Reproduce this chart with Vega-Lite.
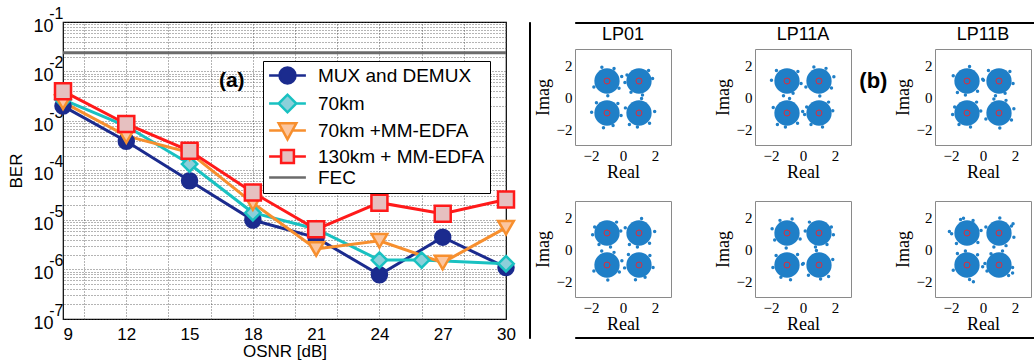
{
  "$schema": "https://vega.github.io/schema/vega-lite/v6.json",
  "background": "white",
  "padding": {"left": 7, "top": 4, "right": 0, "bottom": 0},
  "bounds": "flush",
  "spacing": 23,
  "config": {
    "font": "Liberation Sans",
    "axis": {"labelColor": "black", "titleColor": "black"},
    "header": {"labelColor": "black"},
    "legend": {
      "title": null, "orient": "none", "legendX": 200, "legendY": 39,
      "padding": 5, "symbolOffset": 10, "labelOffset": 21, "rowPadding": 0,
      "symbolSize": 256, "symbolStrokeWidth": 2.5,
      "labelFont": "Liberation Sans", "labelFontSize": 19, "labelColor": "black", "labelLimit": 900,
      "strokeColor": "black", "fillColor": "white"
    }
  },
  "datasets": {
    "ber": [
      {"series": "MUX and DEMUX", "osnr": 9, "ber": 2.0e-3},
      {"series": "MUX and DEMUX", "osnr": 12, "ber": 3.9e-4},
      {"series": "MUX and DEMUX", "osnr": 15, "ber": 6.2e-5},
      {"series": "MUX and DEMUX", "osnr": 18, "ber": 1.0e-5},
      {"series": "MUX and DEMUX", "osnr": 21, "ber": 4.4e-6},
      {"series": "MUX and DEMUX", "osnr": 24, "ber": 7.8e-7},
      {"series": "MUX and DEMUX", "osnr": 27, "ber": 4.5e-6},
      {"series": "MUX and DEMUX", "osnr": 30, "ber": 1.1e-6},
      {"series": "70km", "osnr": 9, "ber": 2.7e-3},
      {"series": "70km", "osnr": 12, "ber": 7.9e-4},
      {"series": "70km", "osnr": 15, "ber": 1.35e-4},
      {"series": "70km", "osnr": 18, "ber": 1.4e-5},
      {"series": "70km", "osnr": 21, "ber": 6.6e-6},
      {"series": "70km", "osnr": 24, "ber": 1.55e-6},
      {"series": "70km", "osnr": 26, "ber": 1.55e-6},
      {"series": "70km", "osnr": 30, "ber": 1.31e-6},
      {"series": "70km +MM-EDFA", "osnr": 9, "ber": 2.4e-3},
      {"series": "70km +MM-EDFA", "osnr": 12, "ber": 5.0e-4},
      {"series": "70km +MM-EDFA", "osnr": 15, "ber": 2.3e-4},
      {"series": "70km +MM-EDFA", "osnr": 18, "ber": 2.2e-5},
      {"series": "70km +MM-EDFA", "osnr": 21, "ber": 2.6e-6},
      {"series": "70km +MM-EDFA", "osnr": 24, "ber": 3.8e-6},
      {"series": "70km +MM-EDFA", "osnr": 27, "ber": 1.38e-6},
      {"series": "70km +MM-EDFA", "osnr": 30, "ber": 7.0e-6},
      {"series": "130km + MM-EDFA", "osnr": 9, "ber": 4.0e-3},
      {"series": "130km + MM-EDFA", "osnr": 12, "ber": 8.7e-4},
      {"series": "130km + MM-EDFA", "osnr": 15, "ber": 2.5e-4},
      {"series": "130km + MM-EDFA", "osnr": 18, "ber": 3.6e-5},
      {"series": "130km + MM-EDFA", "osnr": 21, "ber": 6.5e-6},
      {"series": "130km + MM-EDFA", "osnr": 24, "ber": 2.24e-5},
      {"series": "130km + MM-EDFA", "osnr": 27, "ber": 1.34e-5},
      {"series": "130km + MM-EDFA", "osnr": 30, "ber": 2.6e-5}
    ],
    "constellation": [
      {"mode": "LP11A", "row": 1, "kind": "label", "text": "(b)"},
      {"mode": "LP01", "row": 1, "kind": "c", "re": 1, "im": 1},
      {"mode": "LP01", "row": 1, "kind": "c", "re": -1, "im": 1},
      {"mode": "LP01", "row": 1, "kind": "c", "re": -1, "im": -1},
      {"mode": "LP01", "row": 1, "kind": "c", "re": 1, "im": -1},
      {"mode": "LP11A", "row": 1, "kind": "c", "re": 1, "im": 1},
      {"mode": "LP11A", "row": 1, "kind": "c", "re": -1, "im": 1},
      {"mode": "LP11A", "row": 1, "kind": "c", "re": -1, "im": -1},
      {"mode": "LP11A", "row": 1, "kind": "c", "re": 1, "im": -1},
      {"mode": "LP11B", "row": 1, "kind": "c", "re": 1, "im": 1},
      {"mode": "LP11B", "row": 1, "kind": "c", "re": -1, "im": 1},
      {"mode": "LP11B", "row": 1, "kind": "c", "re": -1, "im": -1},
      {"mode": "LP11B", "row": 1, "kind": "c", "re": 1, "im": -1},
      {"mode": "LP01", "row": 2, "kind": "c", "re": 1, "im": 1},
      {"mode": "LP01", "row": 2, "kind": "c", "re": -1, "im": 1},
      {"mode": "LP01", "row": 2, "kind": "c", "re": -1, "im": -1},
      {"mode": "LP01", "row": 2, "kind": "c", "re": 1, "im": -1},
      {"mode": "LP11A", "row": 2, "kind": "c", "re": 1, "im": 1},
      {"mode": "LP11A", "row": 2, "kind": "c", "re": -1, "im": 1},
      {"mode": "LP11A", "row": 2, "kind": "c", "re": -1, "im": -1},
      {"mode": "LP11A", "row": 2, "kind": "c", "re": 1, "im": -1},
      {"mode": "LP11B", "row": 2, "kind": "c", "re": 1, "im": 1},
      {"mode": "LP11B", "row": 2, "kind": "c", "re": -1, "im": 1},
      {"mode": "LP11B", "row": 2, "kind": "c", "re": -1, "im": -1},
      {"mode": "LP11B", "row": 2, "kind": "c", "re": 1, "im": -1},

      {"mode": "LP01", "row": 1, "kind": "p", "re": 1.85, "im": 1.15},
      {"mode": "LP01", "row": 1, "kind": "p", "re": 0.25, "im": 1.38},
      {"mode": "LP01", "row": 1, "kind": "p", "re": 1.22, "im": 0.12},
      {"mode": "LP01", "row": 1, "kind": "p", "re": 0.50, "im": 0.30},
      {"mode": "LP01", "row": 1, "kind": "p", "re": 1.60, "im": 1.66},
      {"mode": "LP01", "row": 1, "kind": "p", "re": 0.12, "im": 0.90},
      {"mode": "LP01", "row": 1, "kind": "p", "re": -0.25, "im": 0.55},
      {"mode": "LP01", "row": 1, "kind": "p", "re": -1.32, "im": 1.86},
      {"mode": "LP01", "row": 1, "kind": "p", "re": -0.08, "im": 1.28},
      {"mode": "LP01", "row": 1, "kind": "p", "re": -1.82, "im": 0.62},
      {"mode": "LP01", "row": 1, "kind": "p", "re": -0.95, "im": 0.08},
      {"mode": "LP01", "row": 1, "kind": "p", "re": -0.56, "im": 1.78},
      {"mode": "LP01", "row": 1, "kind": "p", "re": -1.66, "im": -0.36},
      {"mode": "LP01", "row": 1, "kind": "p", "re": -0.12, "im": -1.16},
      {"mode": "LP01", "row": 1, "kind": "p", "re": -1.22, "im": -1.92},
      {"mode": "LP01", "row": 1, "kind": "p", "re": -0.32, "im": -0.40},
      {"mode": "LP01", "row": 1, "kind": "p", "re": -1.96, "im": -0.95},
      {"mode": "LP01", "row": 1, "kind": "p", "re": -0.62, "im": -1.78},
      {"mode": "LP01", "row": 1, "kind": "p", "re": 1.98, "im": -0.90},
      {"mode": "LP01", "row": 1, "kind": "p", "re": 0.40, "im": -1.72},
      {"mode": "LP01", "row": 1, "kind": "p", "re": 1.16, "im": -0.10},
      {"mode": "LP01", "row": 1, "kind": "p", "re": 0.15, "im": -0.68},
      {"mode": "LP01", "row": 1, "kind": "p", "re": 1.66, "im": -1.64},
      {"mode": "LP01", "row": 1, "kind": "p", "re": 0.90, "im": -1.88},

      {"mode": "LP11A", "row": 1, "kind": "p", "re": 1.78, "im": 0.56},
      {"mode": "LP11A", "row": 1, "kind": "p", "re": 0.68, "im": 1.88},
      {"mode": "LP11A", "row": 1, "kind": "p", "re": 1.93, "im": 1.27},
      {"mode": "LP11A", "row": 1, "kind": "p", "re": 0.18, "im": 0.62},
      {"mode": "LP11A", "row": 1, "kind": "p", "re": 1.05, "im": 0.06},
      {"mode": "LP11A", "row": 1, "kind": "p", "re": 1.44, "im": 1.79},
      {"mode": "LP11A", "row": 1, "kind": "p", "re": -1.66, "im": 1.66},
      {"mode": "LP11A", "row": 1, "kind": "p", "re": -0.12, "im": 0.84},
      {"mode": "LP11A", "row": 1, "kind": "p", "re": -1.22, "im": 0.08},
      {"mode": "LP11A", "row": 1, "kind": "p", "re": -0.32, "im": 1.60},
      {"mode": "LP11A", "row": 1, "kind": "p", "re": -1.97, "im": 1.05},
      {"mode": "LP11A", "row": 1, "kind": "p", "re": -0.62, "im": 0.24},
      {"mode": "LP11A", "row": 1, "kind": "p", "re": -0.02, "im": -0.90},
      {"mode": "LP11A", "row": 1, "kind": "p", "re": -1.60, "im": -1.72},
      {"mode": "LP11A", "row": 1, "kind": "p", "re": -0.84, "im": -0.10},
      {"mode": "LP11A", "row": 1, "kind": "p", "re": -1.86, "im": -0.66},
      {"mode": "LP11A", "row": 1, "kind": "p", "re": -0.34, "im": -1.64},
      {"mode": "LP11A", "row": 1, "kind": "p", "re": -1.10, "im": -1.88},
      {"mode": "LP11A", "row": 1, "kind": "p", "re": 1.86, "im": -0.86},
      {"mode": "LP11A", "row": 1, "kind": "p", "re": 0.23, "im": -0.62},
      {"mode": "LP11A", "row": 1, "kind": "p", "re": 1.22, "im": -1.88},
      {"mode": "LP11A", "row": 1, "kind": "p", "re": 0.50, "im": -1.72},
      {"mode": "LP11A", "row": 1, "kind": "p", "re": 1.60, "im": -0.32},
      {"mode": "LP11A", "row": 1, "kind": "p", "re": 0.10, "im": -1.10},

      {"mode": "LP11B", "row": 1, "kind": "p", "re": 0.34, "im": 1.66},
      {"mode": "LP11B", "row": 1, "kind": "p", "re": 1.88, "im": 0.84},
      {"mode": "LP11B", "row": 1, "kind": "p", "re": 0.78, "im": 0.08},
      {"mode": "LP11B", "row": 1, "kind": "p", "re": 1.68, "im": 1.60},
      {"mode": "LP11B", "row": 1, "kind": "p", "re": 0.03, "im": 1.05},
      {"mode": "LP11B", "row": 1, "kind": "p", "re": 1.38, "im": 0.23},
      {"mode": "LP11B", "row": 1, "kind": "p", "re": -0.02, "im": 1.11},
      {"mode": "LP11B", "row": 1, "kind": "p", "re": -1.60, "im": 0.28},
      {"mode": "LP11B", "row": 1, "kind": "p", "re": -0.84, "im": 1.90},
      {"mode": "LP11B", "row": 1, "kind": "p", "re": -1.86, "im": 1.33},
      {"mode": "LP11B", "row": 1, "kind": "p", "re": -0.34, "im": 0.36},
      {"mode": "LP11B", "row": 1, "kind": "p", "re": -1.10, "im": 0.12},
      {"mode": "LP11B", "row": 1, "kind": "p", "re": -0.14, "im": -0.88},
      {"mode": "LP11B", "row": 1, "kind": "p", "re": -1.77, "im": -0.62},
      {"mode": "LP11B", "row": 1, "kind": "p", "re": -0.78, "im": -1.88},
      {"mode": "LP11B", "row": 1, "kind": "p", "re": -1.50, "im": -1.72},
      {"mode": "LP11B", "row": 1, "kind": "p", "re": -0.40, "im": -0.32},
      {"mode": "LP11B", "row": 1, "kind": "p", "re": -1.90, "im": -1.10},
      {"mode": "LP11B", "row": 1, "kind": "p", "re": 1.78, "im": -1.44},
      {"mode": "LP11B", "row": 1, "kind": "p", "re": 0.68, "im": -0.12},
      {"mode": "LP11B", "row": 1, "kind": "p", "re": 1.93, "im": -0.73},
      {"mode": "LP11B", "row": 1, "kind": "p", "re": 0.18, "im": -1.38},
      {"mode": "LP11B", "row": 1, "kind": "p", "re": 1.05, "im": -1.94},
      {"mode": "LP11B", "row": 1, "kind": "p", "re": 1.44, "im": -0.21},

      {"mode": "LP01", "row": 2, "kind": "p", "re": 1.98, "im": 1.10},
      {"mode": "LP01", "row": 2, "kind": "p", "re": 0.40, "im": 0.28},
      {"mode": "LP01", "row": 2, "kind": "p", "re": 1.16, "im": 1.90},
      {"mode": "LP01", "row": 2, "kind": "p", "re": 0.14, "im": 1.33},
      {"mode": "LP01", "row": 2, "kind": "p", "re": 1.66, "im": 0.36},
      {"mode": "LP01", "row": 2, "kind": "p", "re": 0.90, "im": 0.12},
      {"mode": "LP01", "row": 2, "kind": "p", "re": -0.14, "im": 1.13},
      {"mode": "LP01", "row": 2, "kind": "p", "re": -1.77, "im": 1.38},
      {"mode": "LP01", "row": 2, "kind": "p", "re": -0.78, "im": 0.12},
      {"mode": "LP01", "row": 2, "kind": "p", "re": -1.50, "im": 0.28},
      {"mode": "LP01", "row": 2, "kind": "p", "re": -0.40, "im": 1.68},
      {"mode": "LP01", "row": 2, "kind": "p", "re": -1.90, "im": 0.89},
      {"mode": "LP01", "row": 2, "kind": "p", "re": -0.23, "im": -1.44},
      {"mode": "LP01", "row": 2, "kind": "p", "re": -1.33, "im": -0.12},
      {"mode": "LP01", "row": 2, "kind": "p", "re": -0.07, "im": -0.73},
      {"mode": "LP01", "row": 2, "kind": "p", "re": -1.82, "im": -1.38},
      {"mode": "LP01", "row": 2, "kind": "p", "re": -0.95, "im": -1.94},
      {"mode": "LP01", "row": 2, "kind": "p", "re": -0.56, "im": -0.21},
      {"mode": "LP01", "row": 2, "kind": "p", "re": 0.34, "im": -0.34},
      {"mode": "LP01", "row": 2, "kind": "p", "re": 1.88, "im": -1.16},
      {"mode": "LP01", "row": 2, "kind": "p", "re": 0.78, "im": -1.92},
      {"mode": "LP01", "row": 2, "kind": "p", "re": 1.68, "im": -0.40},
      {"mode": "LP01", "row": 2, "kind": "p", "re": 0.10, "im": -1.18},
      {"mode": "LP01", "row": 2, "kind": "p", "re": 1.38, "im": -1.77},

      {"mode": "LP11A", "row": 2, "kind": "p", "re": 0.14, "im": 1.13},
      {"mode": "LP11A", "row": 2, "kind": "p", "re": 1.77, "im": 1.38},
      {"mode": "LP11A", "row": 2, "kind": "p", "re": 0.78, "im": 0.12},
      {"mode": "LP11A", "row": 2, "kind": "p", "re": 1.50, "im": 0.28},
      {"mode": "LP11A", "row": 2, "kind": "p", "re": 0.40, "im": 1.68},
      {"mode": "LP11A", "row": 2, "kind": "p", "re": 1.90, "im": 0.89},
      {"mode": "LP11A", "row": 2, "kind": "p", "re": -1.77, "im": 0.56},
      {"mode": "LP11A", "row": 2, "kind": "p", "re": -0.68, "im": 1.88},
      {"mode": "LP11A", "row": 2, "kind": "p", "re": -1.93, "im": 1.27},
      {"mode": "LP11A", "row": 2, "kind": "p", "re": -0.18, "im": 0.62},
      {"mode": "LP11A", "row": 2, "kind": "p", "re": -1.05, "im": 0.06},
      {"mode": "LP11A", "row": 2, "kind": "p", "re": -1.44, "im": 1.79},
      {"mode": "LP11A", "row": 2, "kind": "p", "re": -0.34, "im": -0.34},
      {"mode": "LP11A", "row": 2, "kind": "p", "re": -1.88, "im": -1.16},
      {"mode": "LP11A", "row": 2, "kind": "p", "re": -0.78, "im": -1.92},
      {"mode": "LP11A", "row": 2, "kind": "p", "re": -1.68, "im": -0.40},
      {"mode": "LP11A", "row": 2, "kind": "p", "re": -0.03, "im": -0.95},
      {"mode": "LP11A", "row": 2, "kind": "p", "re": -1.38, "im": -1.77},
      {"mode": "LP11A", "row": 2, "kind": "p", "re": 0.02, "im": -0.90},
      {"mode": "LP11A", "row": 2, "kind": "p", "re": 1.60, "im": -1.72},
      {"mode": "LP11A", "row": 2, "kind": "p", "re": 0.84, "im": -0.10},
      {"mode": "LP11A", "row": 2, "kind": "p", "re": 1.86, "im": -0.66},
      {"mode": "LP11A", "row": 2, "kind": "p", "re": 0.34, "im": -1.64},
      {"mode": "LP11A", "row": 2, "kind": "p", "re": 1.10, "im": -1.88},

      {"mode": "LP11B", "row": 2, "kind": "p", "re": 1.78, "im": 1.44},
      {"mode": "LP11B", "row": 2, "kind": "p", "re": 0.68, "im": 0.12},
      {"mode": "LP11B", "row": 2, "kind": "p", "re": 1.93, "im": 0.73},
      {"mode": "LP11B", "row": 2, "kind": "p", "re": 0.18, "im": 1.38},
      {"mode": "LP11B", "row": 2, "kind": "p", "re": 1.05, "im": 1.94},
      {"mode": "LP11B", "row": 2, "kind": "p", "re": 1.44, "im": 0.21},
      {"mode": "LP11B", "row": 2, "kind": "p", "re": -1.66, "im": 0.34},
      {"mode": "LP11B", "row": 2, "kind": "p", "re": -0.12, "im": 1.16},
      {"mode": "LP11B", "row": 2, "kind": "p", "re": -1.22, "im": 1.92},
      {"mode": "LP11B", "row": 2, "kind": "p", "re": -0.32, "im": 0.40},
      {"mode": "LP11B", "row": 2, "kind": "p", "re": -1.96, "im": 0.95},
      {"mode": "LP11B", "row": 2, "kind": "p", "re": -0.62, "im": 1.78},
      {"mode": "LP11B", "row": 2, "kind": "p", "re": -0.02, "im": -1.11},
      {"mode": "LP11B", "row": 2, "kind": "p", "re": -1.60, "im": -0.28},
      {"mode": "LP11B", "row": 2, "kind": "p", "re": -0.84, "im": -1.90},
      {"mode": "LP11B", "row": 2, "kind": "p", "re": -1.86, "im": -1.33},
      {"mode": "LP11B", "row": 2, "kind": "p", "re": -0.34, "im": -0.36},
      {"mode": "LP11B", "row": 2, "kind": "p", "re": -1.10, "im": -0.12},
      {"mode": "LP11B", "row": 2, "kind": "p", "re": 1.85, "im": -1.15},
      {"mode": "LP11B", "row": 2, "kind": "p", "re": 0.25, "im": -1.38},
      {"mode": "LP11B", "row": 2, "kind": "p", "re": 1.22, "im": -0.12},
      {"mode": "LP11B", "row": 2, "kind": "p", "re": 0.50, "im": -0.30},
      {"mode": "LP11B", "row": 2, "kind": "p", "re": 1.60, "im": -1.66},
      {"mode": "LP11B", "row": 2, "kind": "p", "re": 0.12, "im": -0.90},
      {"mode": "LP11B", "row": 2, "kind": "p", "re": -2.10, "im": 1.10},
      {"mode": "LP11B", "row": 2, "kind": "p", "re": 1.88, "im": 1.58},
      {"mode": "LP11B", "row": 2, "kind": "p", "re": 1.85, "im": -1.50},
      {"mode": "LP11B", "row": 2, "kind": "p", "re": -0.60, "im": -2.05},
      {"mode": "LP11B", "row": 2, "kind": "p", "re": -1.40, "im": 1.85}
    ]
  },
  "hconcat": [
    {
      "width": 443,
      "height": 297,
      "view": {"stroke": "black", "strokeWidth": 1.2},
      "resolve": {
        "scale": {"stroke": "independent", "fill": "independent", "shape": "independent"},
        "axis": {"x": "independent", "y": "independent"}
      },
      "layer": [
        {
          "data": {"name": "ber"},
          "mark": {"type": "line", "strokeWidth": 3},
          "encoding": {
            "x": {
              "field": "osnr", "type": "quantitative",
              "scale": {"domain": [9, 30], "nice": false, "zero": false},
              "axis": {
                "orient": "bottom", "values": [9, 12, 15, 18, 21, 24, 27, 30],
                "grid": false, "ticks": false, "domain": false,
                "labelFont": "Liberation Sans", "labelFontSize": 17, "labelPadding": 7, "labelFlush": false,
                "labelAlign": {"condition": {"test": "datum.value == 9", "value": "left"}, "value": "center"},
                "title": "OSNR [dB]", "titleFont": "Liberation Sans", "titleFontSize": 17, "titleFontWeight": "normal", "titlePadding": 1
              }
            },
            "y": {
              "field": "ber", "type": "quantitative",
              "scale": {"type": "log", "domain": [1e-7, 0.1], "nice": false},
              "axis": {
                "orient": "left", "values": [1e-7, 1e-6, 1e-5, 1e-4, 1e-3, 1e-2, 1e-1],
                "grid": true, "gridColor": "#444444", "gridDash": [1, 2], "gridOpacity": 0.8,
                "ticks": false, "domain": false,
                "labelExpr": "'10'",
                "labelAlign": "right", "labelBaseline": "middle", "labelPadding": 10, "labelOffset": 4,
                "labelFont": "Liberation Sans", "labelFontSize": 18, "labelOverlap": false, "labelFlush": false,
                "title": "BER", "titleFont": "Liberation Sans", "titleFontSize": 17, "titleFontWeight": "normal", "titlePadding": 7
              }
            },
            "stroke": {
              "field": "series", "type": "nominal",
              "scale": {
                "domain": ["MUX and DEMUX", "70km", "70km +MM-EDFA", "130km + MM-EDFA"],
                "range": ["#1b2b8e", "#19c1c1", "#f78f2e", "#ff1a1a"]
              },
              "legend": null
            }
          }
        },
        {
          "data": {"name": "ber"},
          "mark": {"type": "point", "filled": true, "strokeWidth": 2.5, "opacity": 1},
          "encoding": {
            "x": {
              "field": "osnr", "type": "quantitative",
              "axis": {
                "orient": "top", "values": [10, 12, 14, 16, 18, 20, 22, 24, 26, 28],
                "grid": true, "gridColor": "#444444", "gridDash": [1, 2], "gridOpacity": 0.8,
                "labels": false, "ticks": false, "domain": false, "title": null
              }
            },
            "y": {
              "field": "ber", "type": "quantitative",
              "axis": {
                "orient": "right",
                "values": [2e-7, 3e-7, 4e-7, 5e-7, 6e-7, 7e-7, 8e-7, 9e-7,
                           2e-6, 3e-6, 4e-6, 5e-6, 6e-6, 7e-6, 8e-6, 9e-6,
                           2e-5, 3e-5, 4e-5, 5e-5, 6e-5, 7e-5, 8e-5, 9e-5,
                           2e-4, 3e-4, 4e-4, 5e-4, 6e-4, 7e-4, 8e-4, 9e-4,
                           2e-3, 3e-3, 4e-3, 5e-3, 6e-3, 7e-3, 8e-3, 9e-3,
                           2e-2, 3e-2, 4e-2, 5e-2, 6e-2, 7e-2, 8e-2, 9e-2],
                "grid": true, "gridColor": "#444444", "gridDash": [1, 2], "gridOpacity": 0.8,
                "labels": false, "ticks": false, "domain": false, "title": null
              }
            },
            "stroke": {
              "field": "series", "type": "nominal",
              "scale": {
                "domain": ["MUX and DEMUX", "70km", "70km +MM-EDFA", "130km + MM-EDFA"],
                "range": ["#1b2b8e", "#19c1c1", "#f78f2e", "#ff1a1a"]
              },
              "legend": null
            },
            "fill": {
              "field": "series", "type": "nominal",
              "scale": {
                "domain": ["MUX and DEMUX", "70km", "70km +MM-EDFA", "130km + MM-EDFA"],
                "range": ["#1b2b8e", "#8bd0da", "#fbc6a0", "#e6c0c0"]
              },
              "legend": null
            },
            "shape": {
              "field": "series", "type": "nominal",
              "scale": {
                "domain": ["MUX and DEMUX", "70km", "70km +MM-EDFA", "130km + MM-EDFA"],
                "range": ["circle", "diamond", "triangle-down", "square"]
              },
              "legend": null
            },
            "size": {
              "field": "series", "type": "ordinal",
              "scale": {
                "domain": ["MUX and DEMUX", "70km", "70km +MM-EDFA", "130km + MM-EDFA"],
                "range": [225, 256, 300, 169]
              },
              "legend": null
            }
          }
        },
        {
          "data": {"values": [{"series": "FEC", "ber": 0.024}]},
          "mark": {"type": "rule", "strokeWidth": 3, "color": "#6b6b6b"},
          "encoding": {
            "y": {
              "field": "ber", "type": "quantitative",
              "axis": {
                "orient": "left", "values": [1e-7, 1e-6, 1e-5, 1e-4, 1e-3, 1e-2, 1e-1],
                "grid": false, "ticks": false, "domain": false,
                "labelExpr": "toString(round(log(datum.value)/LN10))",
                "labelAlign": "right", "labelBaseline": "middle", "labelPadding": 0, "labelOffset": -9,
                "labelFont": "Liberation Sans", "labelFontSize": 16, "labelOverlap": false, "labelFlush": false,
                "title": null
              }
            }
          }
        },
        {
          "data": {"values": []},
          "mark": {"type": "point", "filled": true, "strokeWidth": 2.5, "opacity": 1},
          "encoding": {
            "stroke": {
              "field": "series", "type": "nominal",
              "scale": {
                "domain": ["MUX and DEMUX", "70km", "70km +MM-EDFA", "130km + MM-EDFA", "FEC"],
                "range": ["#1b2b8e", "#19c1c1", "#f78f2e", "#ff1a1a", "#6b6b6b"]
              }
            },
            "fill": {
              "field": "series", "type": "nominal",
              "scale": {
                "domain": ["MUX and DEMUX", "70km", "70km +MM-EDFA", "130km + MM-EDFA", "FEC"],
                "range": ["#1b2b8e", "#8bd0da", "#fbc6a0", "#e6c0c0", "#ffffff"]
              }
            },
            "shape": {
              "field": "series", "type": "nominal",
              "scale": {
                "domain": ["MUX and DEMUX", "70km", "70km +MM-EDFA", "130km + MM-EDFA", "FEC"],
                "range": [
                  "M-2.3,0H-1M1,0H2.3M-1,0A1,1,0,1,1,1,0A1,1,0,1,1,-1,0Z",
                  "M-2.3,0H-1.1M1.1,0H2.3M-1.1,0L0,-1.1L1.1,0L0,1.1Z",
                  "M-2.3,0H-0.6M0.6,0H2.3M-1.1,-0.9L1.1,-0.9L0,1.1Z",
                  "M-2.3,0H-0.8M0.8,0H2.3M-0.8,-0.8H0.8V0.8H-0.8Z",
                  "M-2.3,0H2.3"
                ]
              }
            }
          }
        },
        {
          "data": {"values": [{"label": "(a)"}]},
          "mark": {"type": "text", "font": "Liberation Sans", "fontSize": 21, "fontWeight": "bold", "align": "center", "baseline": "middle", "color": "black"},
          "encoding": {
            "x": {"datum": 17, "type": "quantitative", "axis": null},
            "y": {"datum": 0.0064, "type": "quantitative", "axis": null},
            "text": {"field": "label"}
          }
        }
      ]
    },
    {
      "spacing": 0,
      "hconcat": [
        {
          "width": 1,
          "height": 316,
          "view": {"stroke": "black", "strokeWidth": 1, "fill": "black"},
          "data": {"values": [{}]},
          "mark": {"type": "point", "opacity": 0},
          "encoding": {}
        },
        {
          "spacing": 0,
          "vconcat": [
            {
              "width": 499,
              "height": 1,
              "view": {"stroke": "black", "strokeWidth": 1, "fill": "black"},
              "data": {"values": [{}]},
              "mark": {"type": "point", "opacity": 0},
              "encoding": {}
            },
            {
              "data": {"name": "constellation"},
              "facet": {
                "column": {
                  "field": "mode", "type": "nominal", "sort": ["LP01", "LP11A", "LP11B"],
                  "header": {"title": null, "labelFont": "Liberation Sans", "labelFontSize": 18, "labelPadding": 5, "labelColor": "black"}
                },
                "row": {"field": "row", "type": "ordinal", "header": null}
              },
              "spacing": {"row": 56, "column": 84},
              "bounds": "flush",
              "resolve": {"axis": {"x": "independent", "y": "independent"}},
              "spec": {
                "width": 96,
                "height": 96,
                "view": {"stroke": "#8a8a8a", "strokeWidth": 1},
                "layer": [
                  {
                    "transform": [{"filter": "datum.kind === 'c'"}],
                    "mark": {"type": "point", "shape": "circle", "filled": true, "size": 640, "color": "#1f7fc7", "opacity": 1, "strokeWidth": 0},
                    "encoding": {
                      "x": {
                        "field": "re", "type": "quantitative",
                        "scale": {"domain": [-3, 3], "nice": false, "zero": false},
                        "axis": {
                          "values": [-2, 0, 2], "title": "Real", "grid": false, "ticks": false, "domain": false,
                          "labelFont": "Liberation Serif", "labelFontSize": 15, "labelPadding": 3, "labelFlush": false,
                          "titleFont": "Liberation Serif", "titleFontSize": 18, "titleFontWeight": "normal", "titlePadding": 0
                        }
                      },
                      "y": {
                        "field": "im", "type": "quantitative",
                        "scale": {"domain": [-3, 3], "nice": false, "zero": false},
                        "axis": {
                          "values": [-2, 0, 2], "title": "Imag", "grid": false, "ticks": false, "domain": false,
                          "labelFont": "Liberation Serif", "labelFontSize": 15, "labelPadding": 3, "labelFlush": false,
                          "titleFont": "Liberation Serif", "titleFontSize": 18, "titleFontWeight": "normal", "titlePadding": 4
                        }
                      }
                    }
                  },
                  {
                    "transform": [{"filter": "datum.kind === 'p'"}],
                    "mark": {"type": "circle", "size": 12, "color": "#1f7fc7", "opacity": 1},
                    "encoding": {
                      "x": {"field": "re", "type": "quantitative"},
                      "y": {"field": "im", "type": "quantitative"}
                    }
                  },
                  {
                    "transform": [{"filter": "datum.kind === 'c'"}],
                    "mark": {"type": "point", "shape": "circle", "filled": false, "size": 36, "color": "#dc2c3c", "strokeWidth": 1, "opacity": 1},
                    "encoding": {
                      "x": {"field": "re", "type": "quantitative"},
                      "y": {"field": "im", "type": "quantitative"}
                    }
                  },
                  {
                    "transform": [{"filter": "datum.kind === 'label'"}],
                    "mark": {"type": "text", "font": "Liberation Sans", "fontSize": 22, "fontWeight": "bold", "align": "center", "baseline": "middle", "color": "black"},
                    "encoding": {
                      "x": {"datum": 4.4, "type": "quantitative"},
                      "y": {"datum": 1.0, "type": "quantitative"},
                      "text": {"field": "text"}
                    }
                  }
                ]
              }
            },
            {
              "width": 499,
              "height": 1,
              "view": {"stroke": "black", "strokeWidth": 1, "fill": "black"},
              "data": {"values": [{}]},
              "mark": {"type": "point", "opacity": 0},
              "encoding": {}
            }
          ]
        }
      ]
    }
  ]
}
